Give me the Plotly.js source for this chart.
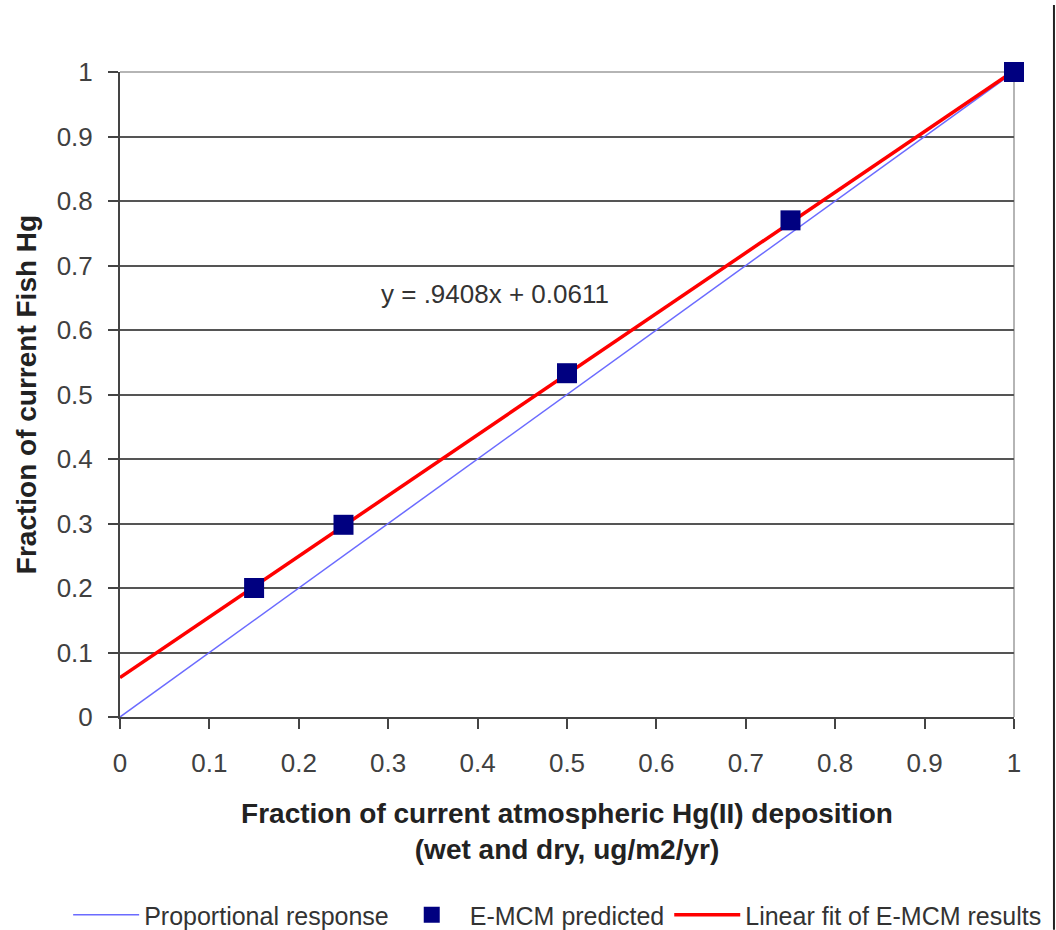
<!DOCTYPE html>
<html><head><meta charset="utf-8">
<script src="https://cdn.plot.ly/plotly-3.0.1.min.js"></script>
<style>html,body{margin:0;padding:0;background:#fff}#chart{width:1056px;height:930px}</style>
</head><body><div id="chart"></div>
<script>
// Data
const depFraction = [0.15, 0.25, 0.5, 0.75, 1.0];
const fishFraction = [0.20, 0.298, 0.533, 0.77, 1.0];
const propX = [0, 1];
const propY = [0, 1];
const fitSlope = 0.9408;
const fitIntercept = 0.0611;
const fitX = [0, 1];
const fitY = fitX.map(x => fitSlope * x + fitIntercept);
const tickVals = [0, 0.1, 0.2, 0.3, 0.4, 0.5, 0.6, 0.7, 0.8, 0.9, 1];
const tickText = ['0', '0.1', '0.2', '0.3', '0.4', '0.5', '0.6', '0.7', '0.8', '0.9', '1'];
const seriesNames = ['Proportional response', 'E-MCM predicted', 'Linear fit of E-MCM results'];
const eqText = 'y = .9408x + 0.0611';

const FONT = 'Liberation Sans, Arial, sans-serif';
const propTrace = {x: propX, y: propY, mode: 'lines', name: seriesNames[0], legendrank: 1,
  line: {color: '#6b6bff', width: 1.5}, cliponaxis: false};
const ptsTrace = {x: depFraction, y: fishFraction, mode: 'markers', name: seriesNames[1], legendrank: 2,
  marker: {symbol: 'square', size: 20, color: '#000080'}, cliponaxis: false};
const fitTrace = {x: fitX, y: fitY, mode: 'lines', name: seriesNames[2], legendrank: 3,
  line: {color: '#ff0000', width: 3.5}, cliponaxis: false};
const data = [propTrace, fitTrace, ptsTrace];

const layout = {
  width: 1056, height: 930,
  margin: {l: 120, r: 42, t: 72, b: 213, autoexpand: false},
  paper_bgcolor: '#fff', plot_bgcolor: '#fff',
  font: {family: FONT, size: 26, color: '#404040'},
  showlegend: true,
  legend: {orientation: 'h', x: -0.058, xanchor: 'left', y: -0.307, yanchor: 'middle', itemwidth: 66,
           font: {family: FONT, size: 25, color: '#333'}, bgcolor: 'rgba(0,0,0,0)', traceorder: 'normal'},
  xaxis: {range: [0, 1], tickvals: tickVals, ticktext: tickText, showgrid: false, zeroline: false, automargin: false,
          showline: true, linecolor: '#444', linewidth: 2, ticks: 'outside', ticklen: 10, tickcolor: '#444', tickwidth: 2,
          ticklabelstandoff: 12, tickfont: {size: 26, color: '#404040'},
          title: {text: '<b>Fraction of current atmospheric Hg(II) deposition</b><br><b>(wet and dry, ug/m2/yr)</b>',
                  font: {size: 28, color: '#222'}, standoff: 26}, fixedrange: true},
  yaxis: {range: [0, 1], tickvals: tickVals, ticktext: tickText, showgrid: true, gridcolor: '#555', gridwidth: 2,
          zeroline: false, showline: true, linecolor: '#444', linewidth: 2, ticks: 'outside', ticklen: 10, tickcolor: '#444', tickwidth: 2,
          ticklabelstandoff: 10, automargin: false, tickfont: {size: 26, color: '#404040'},
          title: {text: '<b>Fraction of current Fish Hg</b>', font: {size: 28, color: '#222'}, standoff: 12}, fixedrange: true},
  annotations: [{x: 0.419, y: 0.656, xref: 'x', yref: 'y', text: eqText, showarrow: false,
                 font: {family: FONT, size: 26, color: '#333'}}],
  shapes: [
    {type: 'line', xref: 'paper', yref: 'paper', x0: 0, x1: 1, y0: 1, y1: 1, line: {color: '#b5b5b5', width: 2}, layer: 'between'},
    {type: 'line', xref: 'paper', yref: 'paper', x0: 1, x1: 1, y0: 0, y1: 1, line: {color: '#b5b5b5', width: 2}, layer: 'between'},
    {type: 'line', xref: 'paper', yref: 'paper', x0: 1.0447, x1: 1.0447, y0: 1.104, y1: -0.33, line: {color: '#222', width: 2}}
  ]
};
Plotly.newPlot('chart', data, layout, {displayModeBar: false, staticPlot: true});
</script></body></html>
